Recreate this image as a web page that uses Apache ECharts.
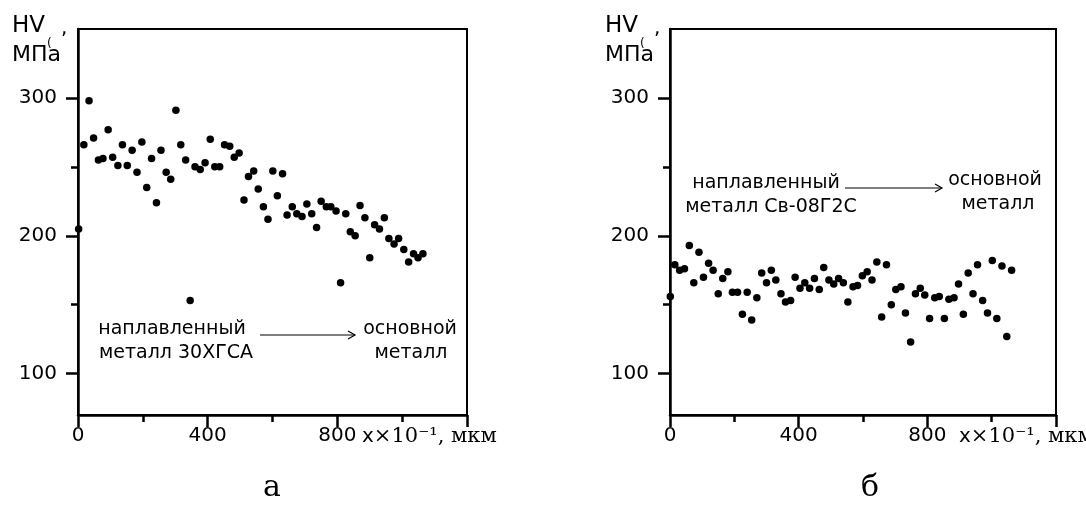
<!DOCTYPE html>
<html><head><meta charset="utf-8">
<script src="https://cdn.jsdelivr.net/npm/echarts@6/dist/echarts.min.js"></script>
<style>html,body{margin:0;padding:0;background:#fff}#c{width:1086px;height:517px}</style>
</head><body><div id="c"></div>
<script>
// ---- data ----
const xTickLabels = [0, 400, 800];
const yTickLabels = [100, 200, 300];
const yMinorTicks = [150, 250];

// panel а: наплавленный металл 30ХГСА
const leftX = [2,18,34,48,63,77,93,107,123,137,152,167,182,197,212,227,242,256,272,286,302,317,332,346,361,377,392,408,422,437,452,468,482,497,512,526,542,556,572,586,601,615,631,645,661,675,691,706,721,736,750,766,780,796,810,826,840,855,870,885,900,915,930,945,959,975,989,1005,1020,1035,1049,1064];
const leftY = [205,266,298,271,255,256,277,257,251,266,251,262,246,268,235,256,224,262,246,241,291,266,255,153,250,248,253,270,250,250,266,265,257,260,226,243,247,234,221,212,247,229,245,215,221,216,214,223,216,206,225,221,221,218,166,216,203,200,222,213,184,208,205,213,198,194,198,190,181,187,184,187];

// panel б: наплавленный металл Св-08Г2С
const rightX = [1,15,30,45,60,74,90,104,120,134,150,164,180,194,210,225,240,254,270,285,300,315,329,345,359,375,389,404,419,434,449,464,478,494,509,524,539,553,569,583,598,613,628,643,658,673,688,702,718,732,748,763,778,792,807,823,837,853,867,883,897,912,927,942,956,972,987,1002,1016,1032,1047,1062];
const rightY = [156,179,175,176,193,166,188,170,180,175,158,169,174,159,159,143,159,139,155,173,166,175,168,158,152,153,170,162,166,162,169,161,177,168,165,169,166,152,163,164,171,174,168,181,141,179,150,161,163,144,123,158,162,157,140,155,156,140,154,155,165,143,173,158,179,153,144,182,140,178,127,175];

const SANS = 'DejaVu Sans', SERIF = 'DejaVu Serif';
const BLK = '#000';
const line = w => ({color: BLK, width: w});

function xAxisFor(gi) {
  return {
    type: 'value', gridIndex: gi, position: 'bottom', min: 0, max: 1200, interval: 400,
    axisLine: {show: true, onZero: false, lineStyle: line(2.5)},
    axisTick: {show: true, length: 12, lineStyle: line(2.5)},
    minorTick: {show: true, splitNumber: 2, length: 7, lineStyle: line(2.5)},
    axisLabel: {margin: 11, color: BLK, fontFamily: SANS, fontSize: 20,
      formatter: v => xTickLabels.includes(v) ? String(v) : ''},
    splitLine: {show: false}, minorSplitLine: {show: false}
  };
}
function yAxesFor(gi) {
  return [{
    type: 'value', gridIndex: gi, position: 'left', min: 70, max: 350,
    axisLine: {show: true, onZero: false, lineStyle: line(2.5)},
    axisTick: {show: true, customValues: yTickLabels, length: 12, lineStyle: line(2.5)},
    axisLabel: {customValues: yTickLabels, margin: 21, color: BLK, fontFamily: SANS, fontSize: 20},
    splitLine: {show: false}
  }, {
    type: 'value', gridIndex: gi, position: 'left', min: 70, max: 350,
    axisLine: {show: false},
    axisTick: {show: true, customValues: yMinorTicks, length: 7, lineStyle: line(2.5)},
    axisLabel: {show: false},
    splitLine: {show: false}
  }];
}

function txt(x, y, text, size, opts) {
  return Object.assign({type: 'text', x: x, y: y, silent: true,
    style: Object.assign({text: text, fill: BLK, fontFamily: SANS, fontSize: size,
      textAlign: 'center', textVerticalAlign: 'middle'}, opts || {})});
}
function hvLabel(x0) {
  return [
    txt(x0, 26, 'HV', 23, {textAlign: 'left'}),
    txt(x0 + 35, 44, '(', 12, {textAlign: 'left'}),
    txt(x0 + 49, 29, ',', 20, {textAlign: 'left'}),
    txt(x0, 55, 'МПа', 22, {textAlign: 'left'})
  ];
}
function arrow(x1, x2, y) {
  return [
    {type: 'line', silent: true, shape: {x1: x1, y1: y, x2: x2, y2: y}, style: {stroke: BLK, lineWidth: 1.2}},
    {type: 'polyline', silent: true, shape: {points: [[x2 - 7, y - 4], [x2, y], [x2 - 7, y + 4]]}, style: {stroke: BLK, lineWidth: 1.2, fill: null}}
  ];
}
function xName(x0, y) {
  return {type: 'text', x: x0, y: y, silent: true, style: {
    text: '{a|x}{b|×10⁻¹, мкм}', textVerticalAlign: 'middle', textAlign: 'left',
    rich: {a: {fontFamily: SANS, fontSize: 20, fill: BLK}, b: {fontFamily: SERIF, fontSize: 21, fill: BLK}}
  }};
}

const graphic = [].concat(
  hvLabel(12), hvLabel(605),
  [
    txt(172, 329, 'наплавленный', 19),
    txt(176, 353, 'металл 30ХГСА', 19),
    txt(410, 329, 'основной', 19),
    txt(411, 353, 'металл', 19),
    txt(766, 183, 'наплавленный', 19),
    txt(771, 207, 'металл Св-08Г2С', 19),
    txt(995, 180, 'основной', 19),
    txt(998, 204, 'металл', 19),
    txt(272, 488, 'а', 30, {fontFamily: SERIF}),
    txt(870, 488, 'б', 30, {fontFamily: SERIF}),
    xName(362, 437), xName(959, 437)
  ],
  arrow(260, 355, 335), arrow(845, 942, 188)
);

const chart = echarts.init(document.getElementById('c'), null, {renderer: 'canvas'});
chart.setOption({
  backgroundColor: '#fff',
  animation: false,
  grid: [
    {left: 78, top: 29, width: 389, height: 386, show: true, borderColor: BLK, borderWidth: 2, containLabel: false, outerBoundsMode: 'none'},
    {left: 670, top: 29, width: 386, height: 386, show: true, borderColor: BLK, borderWidth: 2, containLabel: false, outerBoundsMode: 'none'}
  ],
  xAxis: [xAxisFor(0), xAxisFor(1)],
  yAxis: yAxesFor(0).concat(yAxesFor(1)),
  series: [
    {type: 'scatter', xAxisIndex: 0, yAxisIndex: 0, symbol: 'circle', symbolSize: 7.5,
      itemStyle: {color: BLK, opacity: 1}, data: leftX.map((x, i) => [x, leftY[i]])},
    {type: 'scatter', xAxisIndex: 1, yAxisIndex: 2, symbol: 'circle', symbolSize: 7.5,
      itemStyle: {color: BLK, opacity: 1}, data: rightX.map((x, i) => [x, rightY[i]])}
  ],
  graphic: graphic
});
</script>
</body></html>
